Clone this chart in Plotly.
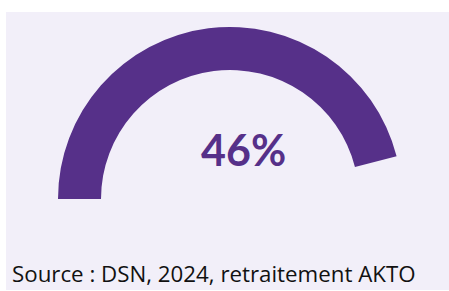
import plotly.graph_objects as go

# Data
value = 46
gauge_max = 50
value_suffix = "%"
source_text = "Source : DSN, 2024, retraitement AKTO"

PURPLE = "#563089"
PANEL = "#F2EFF9"

W, H = 449, 291

fig = go.Figure()

# gauge geometry in pixels: center (230,199), outer radius 172
cx, cy, R = 230, 199, 172
fig.add_trace(go.Indicator(
    mode="gauge",
    value=value,
    domain=dict(x=[(cx - R) / W, (cx + R) / W], y=[(H - cy) / H, (H - cy + R) / H]),
    gauge=dict(
        shape="angular",
        axis=dict(range=[0, gauge_max], visible=False),
        bar=dict(color=PURPLE, thickness=1, line=dict(width=0)),
        bgcolor="rgba(0,0,0,0)",
        borderwidth=0,
    ),
))

fig.add_annotation(
    x=243 / W, y=1 - 149 / H, xref="paper", yref="paper",
    text=f"<b>{value}{value_suffix}</b>", showarrow=False,
    font=dict(family="Lato", size=43, color=PURPLE),
    xanchor="center", yanchor="middle",
)

fig.add_annotation(
    x=10 / W, y=1 - 273 / H, xref="paper", yref="paper",
    text=source_text, showarrow=False,
    font=dict(family="Open Sans", size=22.3, color="#111111"),
    xanchor="left", yanchor="middle",
)

fig.update_layout(
    width=W, height=H,
    margin=dict(l=0, r=0, t=0, b=0),
    paper_bgcolor="white",
    shapes=[dict(type="rect", xref="paper", yref="paper",
                 x0=6 / W, x1=1, y0=1 - 290 / H, y1=1 - 12 / H,
                 fillcolor=PANEL, line=dict(width=0), layer="below")],
)

fig.write_html("out.html", config={"displayModeBar": False},
               post_script="document.body.style.margin='0';")
